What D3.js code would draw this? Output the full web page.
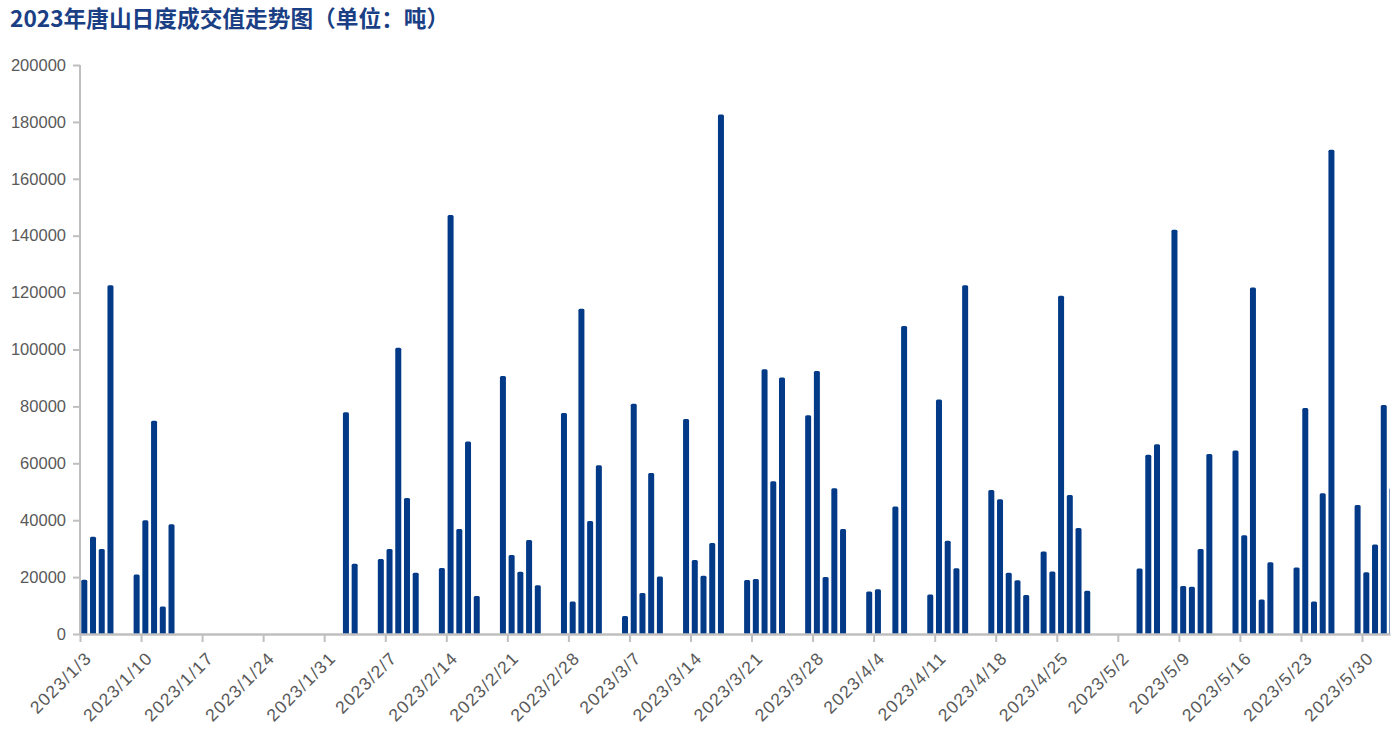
<!DOCTYPE html>
<html>
<head>
<meta charset="utf-8">
<script src="https://cdn.jsdelivr.net/npm/d3@7/dist/d3.min.js"></script>
<style>
  html, body { margin: 0; padding: 0; background: #ffffff; }
  svg { display: block; }
</style>
</head>
<body>
<svg id="chart" width="1392" height="745"></svg>
<script>
const title = "2023年唐山日度成交值走势图（单位：吨）";

const dates = [
  "2023-01-03","2023-01-04","2023-01-05","2023-01-06",
  "2023-01-09","2023-01-10","2023-01-11","2023-01-12","2023-01-13",
  "2023-02-02","2023-02-03",
  "2023-02-06","2023-02-07","2023-02-08","2023-02-09","2023-02-10",
  "2023-02-13","2023-02-14","2023-02-15","2023-02-16","2023-02-17",
  "2023-02-20","2023-02-21","2023-02-22","2023-02-23","2023-02-24",
  "2023-02-27","2023-02-28","2023-03-01","2023-03-02","2023-03-03",
  "2023-03-06","2023-03-07","2023-03-08","2023-03-09","2023-03-10",
  "2023-03-13","2023-03-14","2023-03-15","2023-03-16","2023-03-17",
  "2023-03-20","2023-03-21","2023-03-22","2023-03-23","2023-03-24",
  "2023-03-27","2023-03-28","2023-03-29","2023-03-30","2023-03-31",
  "2023-04-03","2023-04-04","2023-04-06","2023-04-07",
  "2023-04-10","2023-04-11","2023-04-12","2023-04-13","2023-04-14",
  "2023-04-17","2023-04-18","2023-04-19","2023-04-20","2023-04-21",
  "2023-04-23","2023-04-24","2023-04-25","2023-04-26","2023-04-27","2023-04-28",
  "2023-05-04","2023-05-05","2023-05-06",
  "2023-05-08","2023-05-09","2023-05-10","2023-05-11","2023-05-12",
  "2023-05-15","2023-05-16","2023-05-17","2023-05-18","2023-05-19",
  "2023-05-22","2023-05-23","2023-05-24","2023-05-25","2023-05-26",
  "2023-05-29","2023-05-30","2023-05-31","2023-06-01","2023-06-02"
];

const values = [
  19100, 34200, 29900, 122600,
  20900, 40000, 75000, 9700, 38600,
  77900, 24700,
  26400, 29900, 100600, 47800, 21500,
  23200, 147300, 36900, 67700, 13400,
  90700, 27800, 21900, 33000, 17100,
  77700, 11400, 114300, 39700, 59300,
  6300, 80900, 14400, 56600, 20200,
  75600, 26000, 20500, 32000, 182600,
  19000, 19300, 93100, 53700, 90200,
  76900, 92400, 20000, 51200, 36900,
  14900, 15700, 44800, 108300,
  13900, 82400, 32800, 23100, 122600,
  50600, 47400, 21500, 18900, 13700,
  29000, 22000, 118900, 48900, 37300, 15200,
  23000, 63000, 66700,
  142100, 16900, 16600, 29900, 63300,
  64500, 34700, 121800, 12100, 25200,
  23400, 79400, 11400, 49500, 170200,
  45300, 21700, 31500, 80500, 51300
];

const yTicks = [0, 20000, 40000, 60000, 80000, 100000, 120000, 140000, 160000, 180000, 200000];
const xTickStart = "2023-01-03";
const xDomainEnd = "2023-06-02T05:00";

(function () {
const parse = d3.timeParse("%Y-%m-%d");
const parseT = d3.timeParse("%Y-%m-%dT%H:%M");
const data = dates.map((d, i) => ({ date: parse(d), value: values[i] }));

const svg = d3.select("#chart");
const mLeft = 80, mRight = 1390, mTop = 65, mBottom = 634;

const x = d3.scaleTime()
  .domain([parse(xTickStart), parseT(xDomainEnd)])
  .range([mLeft, mRight]);
const y = d3.scaleLinear().domain([0, 200000]).range([mBottom, mTop]);

const axisColor = "#bfbfbf";
const labelColor = "#595959";
const barColor = "#023a87";

svg.append("text")
  .attr("x", 10).attr("y", 27)
  .attr("font-family", "'Noto Sans CJK SC', 'Noto Sans', sans-serif")
  .attr("font-weight", "bold")
  .attr("font-size", 22.7)
  .attr("fill", "#1b3f85")
  .text(title);

svg.append("defs").append("clipPath").attr("id", "plotclip")
  .append("rect").attr("x", mLeft).attr("y", 0).attr("width", mRight - mLeft).attr("height", mBottom + 1);

const bw = 6;
const r = 1.5;
svg.append("g").attr("clip-path", "url(#plotclip)")
  .selectAll("path").data(data).enter().append("path")
  .attr("fill", barColor)
  .attr("d", d => {
    const x0 = x(d.date) + 1.3, x1 = x0 + bw;
    const y0 = y(d.value), yb = y(0);
    return `M${x0},${yb}V${y0 + r}Q${x0},${y0} ${x0 + r},${y0}H${x1 - r}Q${x1},${y0} ${x1},${y0 + r}V${yb}Z`;
  });

const yAxis = svg.append("g")
  .attr("transform", `translate(${mLeft},0)`)
  .call(d3.axisLeft(y).tickValues(yTicks).tickSize(7).tickPadding(7).tickFormat(d3.format("d")));
yAxis.select(".domain").attr("stroke", axisColor).attr("stroke-width", 2)
  .attr("d", `M0,${mTop}V${mBottom}`);
yAxis.selectAll(".tick line").attr("stroke", axisColor).attr("stroke-width", 2);
yAxis.selectAll(".tick text")
  .attr("fill", labelColor)
  .attr("font-family", "'Liberation Sans', Arial, sans-serif")
  .attr("font-size", 16.5);

const xTicks = d3.timeDay.range(parse(xTickStart), parseT(xDomainEnd), 7);
const fmt = d => `${d.getFullYear()}/${d.getMonth() + 1}/${d.getDate()}`;
const xAxis = svg.append("g")
  .attr("transform", `translate(0,${mBottom})`)
  .call(d3.axisBottom(x).tickValues(xTicks).tickSize(8).tickSizeOuter(0).tickFormat(fmt));
xAxis.select(".domain").attr("stroke", axisColor).attr("stroke-width", 2.5);
xAxis.selectAll(".tick line").attr("stroke", axisColor).attr("stroke-width", 2);
xAxis.selectAll(".tick text")
  .attr("fill", labelColor)
  .attr("font-family", "'Liberation Sans', Arial, sans-serif")
  .attr("font-size", 17.5)
  .attr("letter-spacing", 1.3)
  .attr("text-anchor", "end")
  .attr("dy", null)
  .attr("y", 0)
  .attr("transform", "translate(9,22) rotate(-45)")
  .attr("dominant-baseline", "middle");
})();
</script>
</body>
</html>
